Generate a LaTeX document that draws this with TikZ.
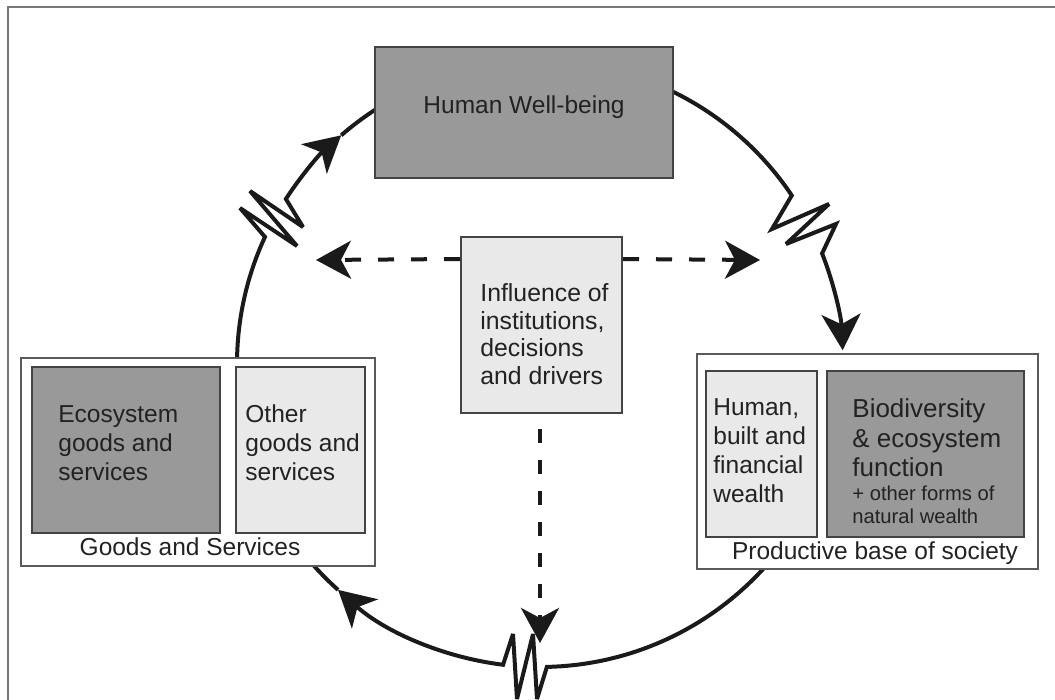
\documentclass[tikz,border=0pt]{standalone}
\usepackage{fontspec}
\setmainfont{Liberation Sans}
\usetikzlibrary{arrows.meta,calc}
\definecolor{txt}{HTML}{222222}
\definecolor{darkfill}{HTML}{999999}
\definecolor{lightfill}{HTML}{E9E9E9}
\definecolor{boxline}{HTML}{444444}
\definecolor{outerline}{HTML}{5A5A5A}
\definecolor{frameline}{HTML}{777777}
\definecolor{ink}{HTML}{1A1A1A}
\begin{document}
\begin{tikzpicture}[x=0.5pt,y=-0.5pt,
  every node/.style={text=txt, font=\fontsize{12.25pt}{14.5pt}\selectfont},
  darkbox/.style={draw=boxline, line width=1pt, fill=darkfill, inner sep=0pt, rectangle},
  lightbox/.style={draw=boxline, line width=1pt, fill=lightfill, inner sep=0pt, rectangle},
  outerbox/.style={draw=outerline, line width=0.8pt, fill=white, inner sep=0pt, rectangle},
  txtblock/.style={inner sep=0pt, align=left, anchor=west},
  circ/.style={draw=ink, line width=2pt, line join=miter, miter limit=4},
  tip/.style={-{Stealth[length=18pt,width=19.5pt,inset=5pt]}},
  dasharrow/.style={draw=ink, line width=2pt, dash pattern=on 8pt off 8.5pt, -{Stealth[length=17.5pt,width=19pt,inset=5pt]}}
]
\useasboundingbox (0,0) rectangle (1055,700);
% frame
\draw[frameline, line width=1pt] (8,7) rectangle (1080,720);

\coordinate (C) at (540,364);
\def\R{303}

% circle with breaks
\draw[circ, tip] ($(C)+(2:\R)$) arc[start angle=2, end angle=88.7, radius=\R]
  -- (537,699) -- (533,634) -- (517,699) -- (513,634) -- ($(C)+(97:\R)$)
  arc[start angle=97, end angle=131.8, radius=\R];
\draw[circ, tip] ($(C)+(131.8:\R)$) arc[start angle=131.8, end angle=204.8, radius=\R]
  -- (240,208) -- (297,246) -- (250,191) -- (303,227) -- ($(C)+(213:\R)$)
  arc[start angle=213, end angle=229, radius=\R];
\draw[circ, tip] ($(C)+(229:\R)$) arc[start angle=229, end angle=326.2, radius=\R]
  -- (772,229) -- (829,204) -- (786,244) -- (836,224) -- ($(C)+(338.6:\R)$)
  arc[start angle=338.6, end angle=357.4, radius=\R];

% top box
\node[darkbox, minimum width=149pt, minimum height=65.5pt] (hw) at (524,112.5) {};
\node[inner sep=0pt] (hwt) at (524,107) {Human Well-being};

% left group
\node[outerbox, minimum width=177pt, minimum height=104pt] (gs) at (198,462) {};
\node[darkbox, minimum width=94pt, minimum height=83pt] (eco) at (126,450) {};
\node[lightbox, minimum width=64.5pt, minimum height=83pt] (oth) at (300.5,450) {};
\node[txtblock] (ecot) at (58,443) {Ecosystem\\goods and\\services};
\node[txtblock] (otht) at (245,443) {Other\\goods and\\services};
\node[inner sep=0pt] (gst) at (190,547) {Goods and Services};

% right group
\node[outerbox, minimum width=170.5pt, minimum height=107.5pt] (pb) at (867.5,461.5) {};
\node[lightbox, minimum width=55.5pt, minimum height=83pt] (hum) at (761.5,454) {};
\node[darkbox, minimum width=98.5pt, minimum height=83pt] (bio) at (925.5,454) {};
\node[txtblock] (humt) at (713,451) {Human,\\built and\\financial\\wealth};
\node[txtblock, font=\fontsize{13pt}{14.75pt}\selectfont] (biot) at (852,438) {Biodiversity\\\& ecosystem\\function};
\node[txtblock, font=\fontsize{10.1pt}{11.75pt}\selectfont] (biot2) at (852,505) {+ other forms of\\natural wealth};
\node[inner sep=0pt] (pbt) at (875,553) {Productive base of society};

% centre box
\node[lightbox, minimum width=80.5pt, minimum height=88pt] (inf) at (541.5,325) {};
\node[txtblock, font=\fontsize{12.4pt}{13.85pt}\selectfont] (inft) at (480,334) {Influence of\\institutions,\\decisions\\and drivers};

% dashed arrows
\coordinate (dl) at (316,260);
\coordinate (dr) at (760,260);
\coordinate (dd) at (540,643);
\draw[dasharrow] ($(inf.north west)+(0,23)$) -- (dl);
\draw[dasharrow] ($(inf.north east)+(0,23)$) -- (dr);
\draw[dasharrow, dash pattern=on 7pt off 8.5pt, dash phase=8pt] ($(inf.south)+(-1.5,0)$) -- (dd);
\end{tikzpicture}
\end{document}
